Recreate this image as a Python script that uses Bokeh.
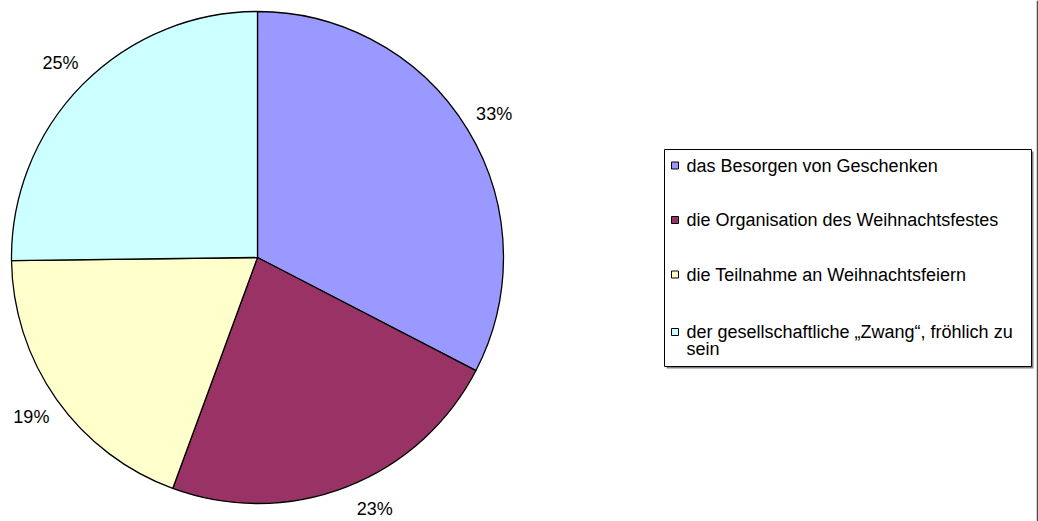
import math
import textwrap
from bokeh.plotting import figure
from bokeh.models import Range1d
from bokeh.embed import file_html
from bokeh.resources import INLINE
from bokeh.core.properties import value

# ---- data ----
categories = [
    "das Besorgen von Geschenken",
    "die Organisation des Weihnachtsfestes",
    "die Teilnahme an Weihnachtsfeiern",
    "der gesellschaftliche \u201eZwang\u201c, fröhlich zu sein",
]
shares = [32.6, 23.0, 19.2, 25.2]
pct_labels = ["33%", "23%", "19%", "25%"]
colors = ["#9999FF", "#993366", "#FFFFCC", "#CCFFFF"]

# ---- layout ----
W, H = 1038, 521
FONT = "Liberation Sans"


def X(sx):
    return sx


def Y(sy):
    return H - sy


p = figure(width=W, height=H, x_range=Range1d(0, W), y_range=Range1d(0, H),
           output_backend="svg", toolbar_location=None, min_border=0)
p.axis.visible = False
p.grid.visible = False
p.outline_line_color = None
p.background_fill_color = "white"
p.border_fill_color = "white"

cx, cy, r = X(257), Y(257), 246
total = sum(shares)
starts, ends, mids = [], [], []
acc = 0.0
for s in shares:
    a0 = math.pi / 2 - 2 * math.pi * acc / total
    acc += s
    a1 = math.pi / 2 - 2 * math.pi * acc / total
    starts.append(a0)
    ends.append(a1)
    mids.append((a0 + a1) / 2)

p.wedge(x=[cx] * len(shares), y=[cy] * len(shares), radius=r,
        start_angle=starts, end_angle=ends, direction="clock",
        fill_color=colors, line_color="black", line_width=1.3)

# percentage labels around the pie
lr = 277
ymin = Y(508)
lx, ly = [], []
for a in mids:
    x = cx + lr * math.cos(a)
    y = cy + lr * math.sin(a)
    if y < ymin:
        y = ymin
        dx = math.sqrt(max(lr ** 2 - (cy - y) ** 2, 0))
        x = cx + (dx if math.cos(a) >= 0 else -dx)
    lx.append(x)
    ly.append(y)
p.text(x=lx, y=ly, text=pct_labels, text_font=value(FONT), text_font_size="18px",
       text_align="center", text_baseline="middle", text_color="black")

# legend box with shadow
p.quad(left=[X(664) + 2], right=[X(1031) + 2], top=[Y(149) - 2], bottom=[Y(366) - 2],
       fill_color="#808080", line_color=None)
p.quad(left=[X(664)], right=[X(1031)], top=[Y(149)], bottom=[Y(366)],
       fill_color="white", line_color="black", line_width=1)

sq_x, sq_y, tx, ty, tt = [], [], [], [], []
for i, cat in enumerate(categories):
    lines = textwrap.wrap(cat, 42)
    y0 = 165 + 54.5 * i + 3 * (len(lines) - 1)
    sq_x.append(X(674.5))
    sq_y.append(Y(y0))
    for j, ln in enumerate(lines):
        tx.append(X(686))
        ty.append(Y(y0 + 17 * j))
        tt.append(ln)
p.rect(x=sq_x, y=sq_y, width=7, height=7, fill_color=colors, line_color="black", line_width=1)
p.text(x=tx, y=ty, text=tt, text_font=value(FONT), text_font_size="18px",
       text_align="left", text_baseline="middle", text_color="black")

# right frame line
p.segment(x0=[1037], y0=[0], x1=[1037], y1=[H], line_color="#4d4d4d", line_width=1.5)

open("out.html", "w").write(file_html(p, INLINE))
